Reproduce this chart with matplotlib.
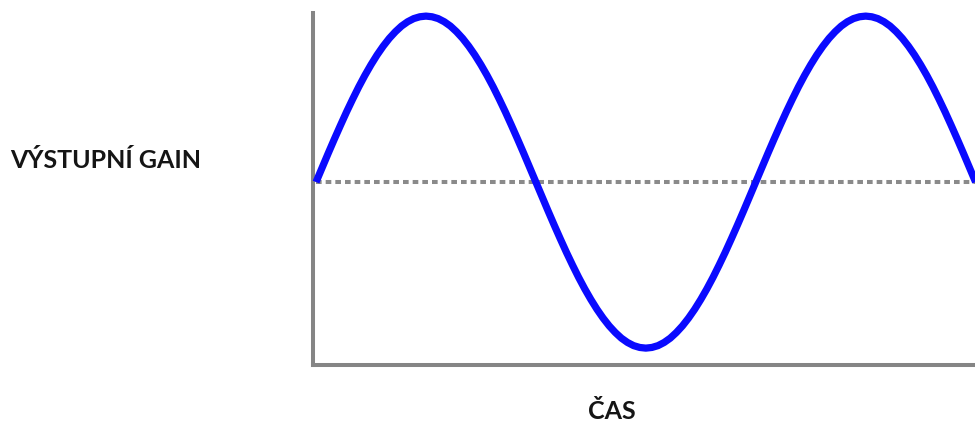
import numpy as np
import matplotlib.pyplot as plt

# phase in degrees, signal level (every 5 degrees)
phase = list(range(0, 541, 5))
gain = [0.000, 0.087, 0.174, 0.259, 0.342, 0.423, 0.500, 0.574, 0.643, 0.707,
        0.766, 0.819, 0.866, 0.906, 0.940, 0.966, 0.985, 0.996, 1.000,
        0.996, 0.985, 0.966, 0.940, 0.906, 0.866, 0.819, 0.766, 0.707, 0.643,
        0.574, 0.500, 0.423, 0.342, 0.259, 0.174, 0.087, 0.000,
        -0.087, -0.174, -0.259, -0.342, -0.423, -0.500, -0.574, -0.643, -0.707,
        -0.766, -0.819, -0.866, -0.906, -0.940, -0.966, -0.985, -0.996, -1.000,
        -0.996, -0.985, -0.966, -0.940, -0.906, -0.866, -0.819, -0.766, -0.707, -0.643,
        -0.574, -0.500, -0.423, -0.342, -0.259, -0.174, -0.087, 0.000,
        0.087, 0.174, 0.259, 0.342, 0.423, 0.500, 0.574, 0.643, 0.707,
        0.766, 0.819, 0.866, 0.906, 0.940, 0.966, 0.985, 0.996, 1.000,
        0.996, 0.985, 0.966, 0.940, 0.906, 0.866, 0.819, 0.766, 0.707, 0.643,
        0.574, 0.500, 0.423, 0.342, 0.259, 0.174, 0.087, 0.000]
baseline = 0.0

ylabel = 'VÝSTUPNÍ GAIN'
xlabel = 'ČAS'

plt.rcParams['font.family'] = ['Lato', 'DejaVu Sans']

fig = plt.figure(figsize=(9.75, 4.23), dpi=100)
ax = fig.add_axes([0.321, 0.137, 0.679, 0.832])

ax.axhline(baseline, color='#8a8a8a', lw=2.9, linestyle=(0, (1.4, 1.0)),
           xmin=0.004, xmax=1.0, zorder=1)
ax.plot(phase, gain, color='#0a0aff', lw=5.2, solid_capstyle='butt',
        solid_joinstyle='round', clip_on=False, zorder=3)

ax.set_xlim(-2.5, 539.5)
ax.set_ylim(-1.102, 1.018)
for s in ['top', 'right']:
    ax.spines[s].set_visible(False)
for s in ['left', 'bottom']:
    ax.spines[s].set_color('#858585')
    ax.spines[s].set_linewidth(2.9)
ax.set_xticks([])
ax.set_yticks([])

fig.text(10 / 975, 1 - 160 / 423, ylabel, fontsize=18, fontweight='bold',
         color='#151515', ha='left', va='center')
fig.text(612 / 975, 1 - 411 / 423, xlabel, fontsize=18, fontweight='bold',
         color='#151515', ha='center', va='center')

fig.savefig('out.png', dpi=100)
